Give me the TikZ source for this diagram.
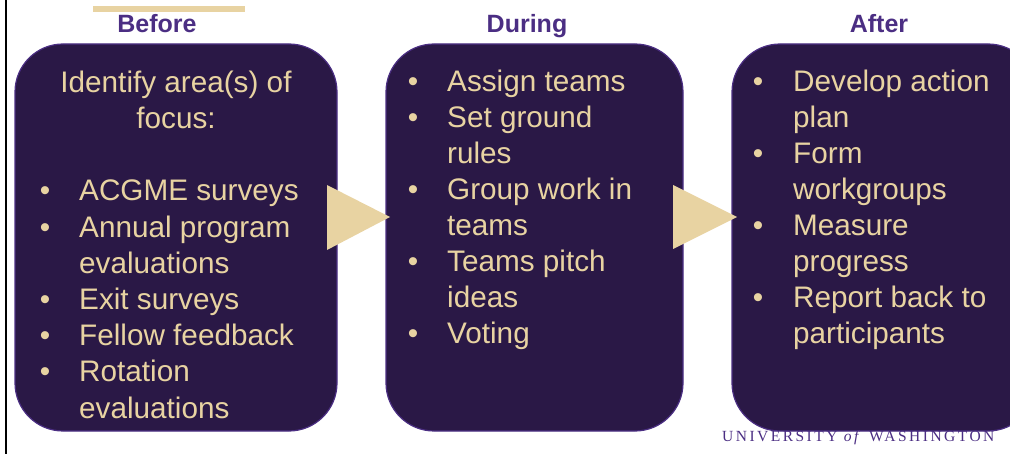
\documentclass[tikz,border=0pt]{standalone}
\usepackage{fontspec}
\setmainfont{Liberation Sans}
\newfontfamily\uwserif[LetterSpace=16]{Liberation Serif}
\definecolor{uwpurple}{HTML}{4B2E83}
\definecolor{boxfill}{HTML}{2A1846}
\definecolor{uwgold}{HTML}{E8D3A2}

\begin{document}
\begin{tikzpicture}[x=1pt, y=-1pt,
  stage/.style={draw=uwpurple, line width=1.2pt, fill=boxfill, rounded corners=48pt,
    minimum width=#1, minimum height=387pt, inner sep=0pt},
  heading/.style={anchor=base, inner sep=0pt, text=uwpurple, font=\bfseries\fontsize{25}{30}\selectfont},
  line/.style={anchor=base west, inner sep=0pt, text=uwgold, font=\fontsize{29.7}{36}\selectfont},
  dot/.style={anchor=base, inner sep=0pt, text=uwgold, font=\fontsize{29.7}{36}\selectfont}]
\clip (0,0) rectangle (1010,454);
\useasboundingbox (0,0) rectangle (1010,454);
\draw [line width=2pt] (6,0) -- (6,454);
\fill [uwgold] (93,6) rectangle (245,12.5);
% headings
\node [heading] (before-head) at (157,33) {Before};
\node [heading] (during-head) at (527,33) {During};
\node [heading] (after-head) at (879,33) {After};
% the three stages
\node [stage=322pt] (before) at (176,237.5) {};
\node [stage=297pt] (during) at (534.5,237.5) {};
\node [stage=304pt] (after) at (884,237.5) {};
\fill [uwgold] (327,185) -- (390,217) -- (327,250) -- cycle;
\fill [uwgold] (673,185) -- (737,217) -- (673,249) -- cycle;
% before
\node [line, anchor=base] (focus-a) at (176,93) {Identify area(s) of};
\node [line, anchor=base] (focus-b) at (176,129) {focus:};
\foreach \t [count=\i from 0] in {ACGME surveys, Annual program, evaluations, Exit surveys,
    Fellow feedback, Rotation, evaluations}
  \node [line] (pre-\i) at (79,201+36.2*\i) {\t};
\foreach \i in {0,1,3,4,5}
  \node [dot] (predot-\i) at (45,201+36.2*\i) {\textbullet};
% during
\foreach \t [count=\i from 0] in {Assign teams, Set ground, rules, Group work in, teams,
    Teams pitch, ideas, Voting}
  \node [line] (dur-\i) at (447,92+36*\i) {\t};
\foreach \i in {0,1,3,5,7}
  \node [dot] (durdot-\i) at (413,92+36*\i) {\textbullet};
% after
\foreach \t [count=\i from 0] in {Develop action, plan, Form, workgroups, Measure, progress,
    Report back to, participants}
  \node [line] (post-\i) at (793,92+36*\i) {\t};
\foreach \i in {0,2,4,6}
  \node [dot] (postdot-\i) at (758,92+36*\i) {\textbullet};
\node [anchor=base west, inner sep=0pt, text=uwpurple, font=\uwserif\fontsize{15.5}{15.5}\selectfont]
  (uw) at (722,441) {UNIVERSITY \textit{of} WASHINGTON};
\end{tikzpicture}
\end{document}
